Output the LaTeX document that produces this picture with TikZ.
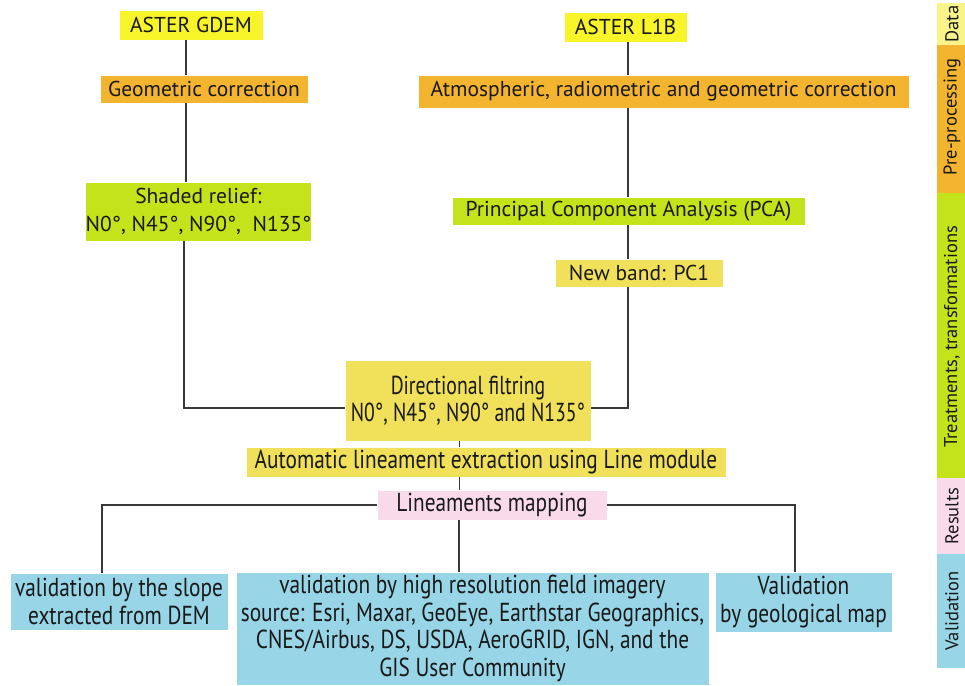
\documentclass[tikz,border=0pt]{standalone}
\usepackage{fontspec}
\setmainfont{PT Sans}
\newfontfamily\condfont[FakeStretch=0.82]{PT Sans}
\newfontfamily\condfontb[FakeStretch=0.76]{PT Sans}
\definecolor{cyel}{HTML}{F7F52A}
\definecolor{cora}{HTML}{F3B52F}
\definecolor{cgrn}{HTML}{C5E31A}
\definecolor{cyel2}{HTML}{F0E05A}
\definecolor{cpnk}{HTML}{F9DAEA}
\definecolor{cblu}{HTML}{97D5E7}
\definecolor{cyelside}{HTML}{F8F48A}
\definecolor{cline}{HTML}{3A3A3A}
\begin{document}
\begin{tikzpicture}[x=1pt,y=-1pt,
  box/.style={draw=white, line width=0.8pt, inner sep=0pt, align=center, text=black!90,
    font=\fontsize{21.5}{28}\selectfont},
  cbox/.style={box, font=\condfont\fontsize{26}{27.5}\selectfont},
  side/.style={inner sep=0pt, rotate=90, text=black!90, font=\fontsize{18.5}{20}\selectfont},
  conn/.style={draw=cline, line width=1.2pt}]
\useasboundingbox (0,0) rectangle (965,685);
% side bar
\fill[cyelside] (937,3) rectangle (965,45);
\fill[cora] (937,45) rectangle (965,193);
\fill[cgrn] (937,193) rectangle (965,478);
\fill[cpnk] (937,478) rectangle (965,554);
\fill[cblu] (937,554) rectangle (965,668);
\node[side] (sdata) at (952,24) {Data};
\node[side] (spre) at (952,117) {Pre-processing};
\node[side] (strt) at (952,337) {Treatments, transformations};
\node[side] (sres) at (952,516) {Results};
\node[side] (sval) at (952,611) {Validation};
% boxes
\node[box, fill=cyel, minimum width=144, minimum height=30] (gdem) at (191,25) {ASTER GDEM};
\node[box, fill=cora, minimum width=208, minimum height=28] (geo) at (204,89) {Geometric correction};
\node[box, fill=cgrn, minimum width=219, minimum height=59] (shade) at (198.5,211.5) {Shaded relief:\\N0°, N45°, N90°,~ N135°};
\node[box, fill=cyel, minimum width=123, minimum height=30] (l1b) at (625.5,27) {ASTER L1B};
\node[box, fill=cora, minimum width=491, minimum height=33] (atm) at (663.5,91.5) {Atmospheric, radiometric and geometric correction};
\node[box, fill=cgrn, minimum width=353, minimum height=28] (pca) at (628.5,211) {Principal Component Analysis (PCA)};
\node[box, fill=cyel2, minimum width=168, minimum height=28] (pc1) at (639,273) {New band: PC1};
\node[cbox, font=\condfontb\fontsize{26}{27.5}\selectfont, fill=cyel2, minimum width=246, minimum height=81] (dir) at (468,400.5) {Directional filtring\\N0°, N45°, N90° and N135°};
\node[cbox, fill=cyel2, minimum width=480, minimum height=30] (auto) at (486,462) {Automatic lineament extraction using Line module};
\node[cbox, fill=cpnk, minimum width=230, minimum height=30] (map) at (492,505) {Lineaments mapping};
\node[cbox, fill=cblu, minimum width=218, minimum height=57] (v1) at (119,601.5) {validation by the slope\\extracted from DEM};
\node[cbox, fill=cblu, minimum width=473, minimum height=113] (v2) at (472.5,628.5) {validation by high resolution field imagery\\source: Esri, Maxar, GeoEye, Earthstar Geographics,\\CNES/Airbus, DS, USDA, AeroGRID, IGN, and the\\GIS User Community};
\node[cbox, fill=cblu, minimum width=177, minimum height=60] (v3) at (803.5,602) {Validation\\by geological map};
% connectors
\draw[conn] ([xshift=-5pt]gdem.south) -- ([xshift=-5pt]gdem.south |- geo.north);
\draw[conn] ([xshift=-18pt]geo.south) -- ([xshift=-18pt]geo.south |- shade.north);
\draw[conn] ([xshift=-14.5pt]shade.south) |- ([yshift=-7.5pt]dir.west);
\draw[conn] ([xshift=2.5pt]l1b.south) -- ([xshift=2.5pt]l1b.south |- atm.north);
\draw[conn] ([xshift=-35.5pt]atm.south) -- ([xshift=-35.5pt]atm.south |- pca.north);
\draw[conn] ([xshift=-0.5pt]pca.south) -- ([xshift=-0.5pt]pca.south |- pc1.north);
\draw[conn] ([xshift=-11pt]pc1.south) |- ([yshift=-7.5pt]dir.east);
\draw[conn] ([xshift=-8.5pt]dir.south) -- ([xshift=-8.5pt]dir.south |- auto.north);
\draw[conn] ([xshift=-26.5pt]auto.south) -- ([xshift=-26.5pt]auto.south |- map.north);
\draw[conn] (map.west) -| ([xshift=-17pt]v1.north);
\draw[conn] (map.east) -| ([xshift=-8.5pt]v3.north);
\draw[conn] ([xshift=-33pt]map.south) -- ([xshift=-33pt]map.south |- v2.north);
\end{tikzpicture}
\end{document}
